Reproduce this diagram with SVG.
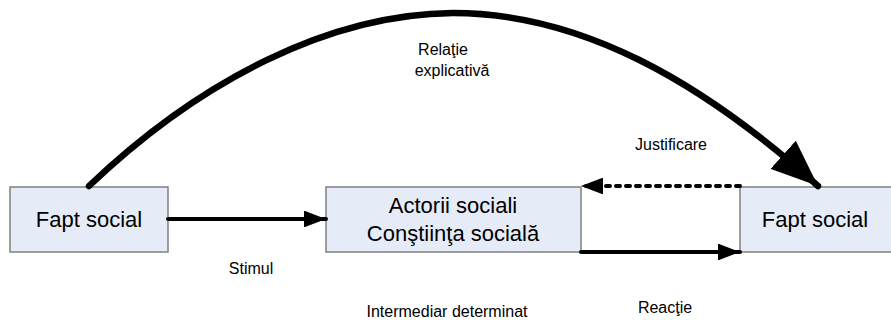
<svg xmlns="http://www.w3.org/2000/svg" width="891" height="320" viewBox="0 0 891 320">
<style>
.box{fill:#e6ecf7;stroke:#808080;stroke-width:1.5}
.bt{font-family:"Liberation Sans",Arial,sans-serif;font-size:22px;fill:#000;text-anchor:middle}
.lb{font-family:"Liberation Sans",Arial,sans-serif;font-size:16px;fill:#000;text-anchor:middle}
.c{fill:none;stroke:#000;stroke-linecap:round}
</style>
<defs>
<marker id="ah" viewBox="0 0 10 10" refX="10" refY="5" markerWidth="5.5" markerHeight="4.2" preserveAspectRatio="none" markerUnits="strokeWidth" orient="auto"><path d="M0,0L10,5L0,10z" fill="#000"/></marker>
<marker id="ahb" viewBox="0 0 10 10" refX="10" refY="5" markerWidth="7.2" markerHeight="5.8" preserveAspectRatio="none" markerUnits="strokeWidth" orient="auto"><path d="M0,0L10,5L0,10z" fill="#000"/></marker>
</defs>
<g id="n1"><rect class="box" x="10" y="187" width="158" height="65"/><text class="bt" x="89" y="227">Fapt social</text></g>
<g id="n2"><rect class="box" x="326" y="187" width="255" height="65"/><text class="bt" x="453" y="213">Actorii sociali</text><text class="bt" x="453" y="241">Conştiinţa socială</text></g>
<g id="n3"><rect class="box" x="740" y="187" width="152" height="65"/><text class="bt" x="815" y="227">Fapt social</text></g>
<g id="connectors">
<path class="c" d="M168,219H326" stroke-width="4" marker-end="url(#ah)"/>
<path class="c" d="M740,186H581" stroke-width="4" stroke-dasharray="4,6" marker-end="url(#ah)"/>
<path class="c" d="M581,252H740" stroke-width="4" marker-end="url(#ah)"/>
<path class="c" d="M89,186C200,80 330,14 453,13C580,13 700,80 818,186" stroke-width="6.5" marker-end="url(#ahb)"/>
</g>
<g id="labels">
<text class="lb" x="443" y="55">Relaţie</text>
<text class="lb" x="452" y="76">explicativă</text>
<text class="lb" x="671" y="150">Justificare</text>
<text class="lb" x="251" y="274">Stimul</text>
<text class="lb" x="447" y="317">Intermediar determinat</text>
<text class="lb" x="665" y="313">Reacţie</text>
</g>
</svg>
